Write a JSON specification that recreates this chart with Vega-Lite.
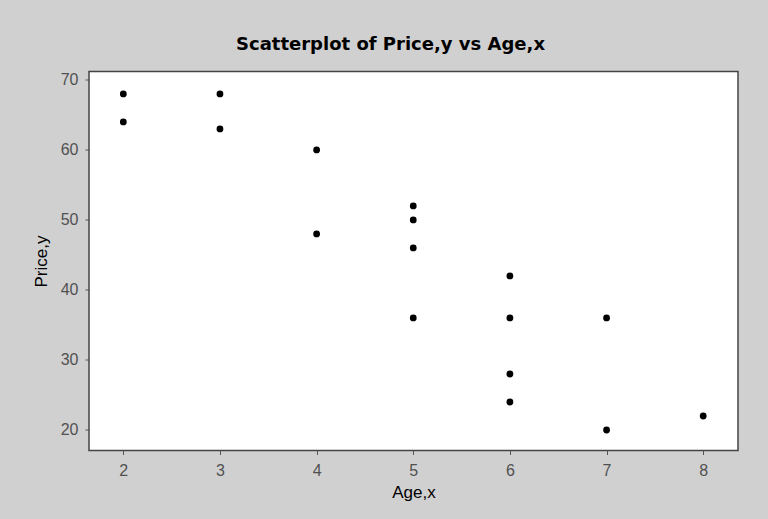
{
  "$schema": "https://vega.github.io/schema/vega-lite/v6.json",
  "width": 649,
  "height": 379,
  "autosize": {"type": "none"},
  "padding": {"left": 89, "top": 71.5, "right": 30, "bottom": 68.5},
  "background": "#d0d0d0",
  "title": {
    "text": "Scatterplot of Price,y vs Age,x",
    "font": "DejaVu Sans",
    "fontSize": 18,
    "fontWeight": "bold",
    "color": "#000000",
    "offset": 18,
    "dx": -23
  },
  "data": {
    "values": [
      {"age": 2, "price": 68},
      {"age": 2, "price": 64},
      {"age": 3, "price": 68},
      {"age": 3, "price": 63},
      {"age": 4, "price": 60},
      {"age": 4, "price": 48},
      {"age": 5, "price": 52},
      {"age": 5, "price": 50},
      {"age": 5, "price": 46},
      {"age": 5, "price": 36},
      {"age": 6, "price": 42},
      {"age": 6, "price": 36},
      {"age": 6, "price": 28},
      {"age": 6, "price": 24},
      {"age": 7, "price": 36},
      {"age": 7, "price": 20},
      {"age": 8, "price": 22}
    ]
  },
  "mark": {"type": "circle", "size": 46, "color": "#000000", "opacity": 1},
  "encoding": {
    "x": {
      "field": "age",
      "type": "quantitative",
      "title": "Age,x",
      "scale": {"domain": [1.645, 8.36], "nice": false, "zero": false},
      "axis": {"values": [2, 3, 4, 5, 6, 7, 8], "labelPadding": 8, "titlePadding": 6}
    },
    "y": {
      "field": "price",
      "type": "quantitative",
      "title": "Price,y",
      "scale": {"domain": [17.07, 71.21], "nice": false, "zero": false},
      "axis": {"values": [20, 30, 40, 50, 60, 70], "labelPadding": 7, "titlePadding": 10}
    }
  },
  "config": {
    "view": {"fill": "white", "stroke": "#444444", "strokeWidth": 1.5},
    "axis": {
      "domain": false,
      "grid": false,
      "ticks": true,
      "tickSize": 4,
      "tickColor": "#555555",
      "labelFont": "Liberation Sans",
      "labelFontSize": 16,
      "labelColor": "#505050",
      "titleFont": "Liberation Sans",
      "titleFontSize": 17,
      "titleFontWeight": "normal",
      "titleColor": "#000000"
    }
  }
}
